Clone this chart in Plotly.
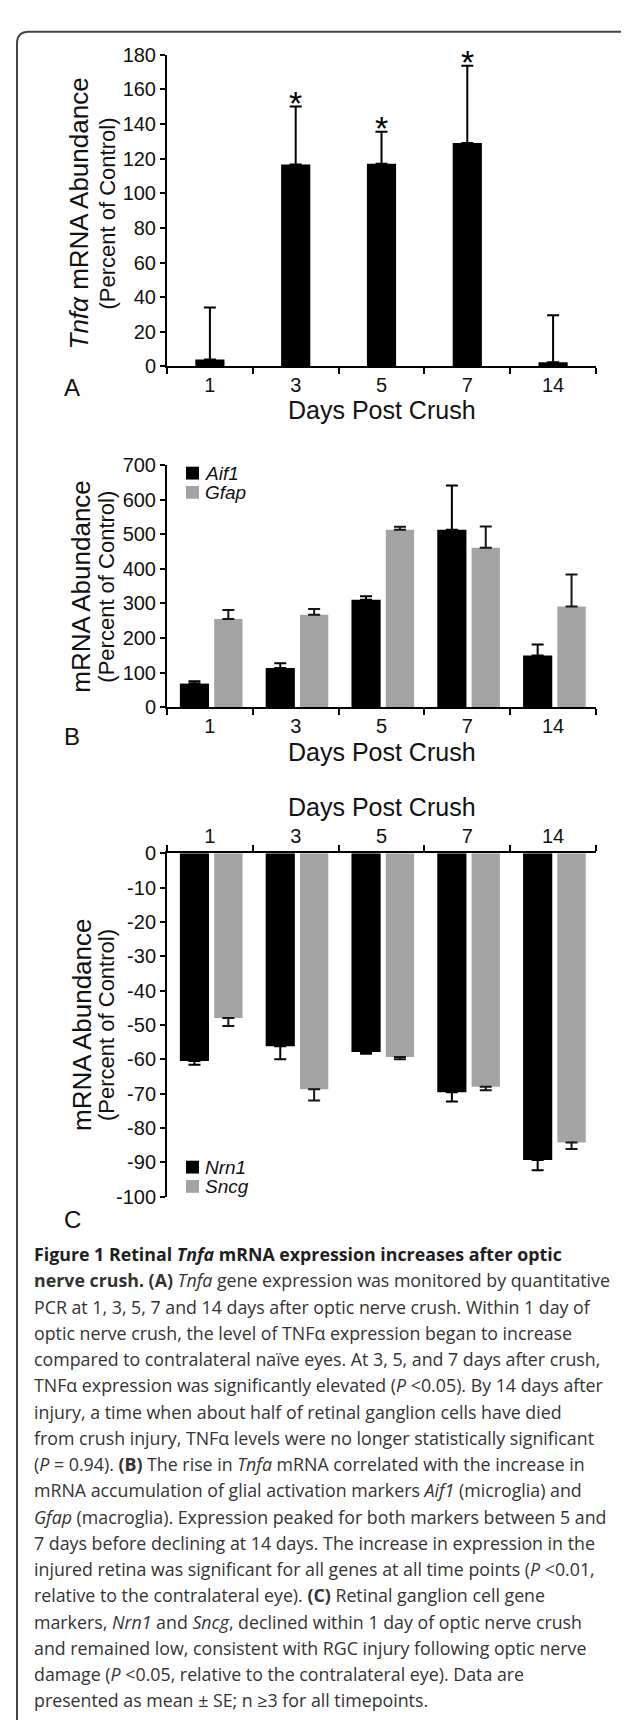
import plotly.graph_objects as go

W, H = 629, 1720

# ---------------- data ----------------
days = ["1", "3", "5", "7", "14"]

tnfa_mean = [4, 116.5, 117, 129, 2.5]
tnfa_se = [30, 33.5, 18.5, 44.5, 27]
tnfa_sig = [False, True, True, True, False]

aif1_mean = [68, 113, 311, 513, 149]
aif1_se = [7, 14, 10, 128, 32]
gfap_mean = [255, 267, 513, 461, 291]
gfap_se = [26, 17, 9, 62, 93]

nrn1_mean = [-60.5, -56.2, -57.9, -69.6, -89.3]
nrn1_se = [1.1, 3.8, 0.5, 2.7, 3]
sncg_mean = [-48, -68.7, -59.3, -68, -84.2]
sncg_se = [2.3, 3.3, 0.7, 1, 1.9]

yticks_a = list(range(0, 181, 20))
yticks_b = list(range(0, 701, 100))
yticks_c = list(range(-100, 1, 10))
yticklabels_c = [str(v) for v in yticks_c]  # plain hyphen minus, as in the figure

caption_lines = [
    "<b>Figure 1 Retinal <i>Tnfa</i> mRNA expression increases after optic</b>",
    "<b>nerve crush. (A)</b> <i>Tnfa</i> gene expression was monitored by quantitative",
    "PCR at 1, 3, 5, 7 and 14 days after optic nerve crush. Within 1 day of",
    "optic nerve crush, the level of TNF\u03b1 expression began to increase",
    "compared to contralateral na\u00efve eyes. At 3, 5, and 7 days after crush,",
    "TNF\u03b1 expression was significantly elevated (<i>P</i> &lt;0.05). By 14 days after",
    "injury, a time when about half of retinal ganglion cells have died",
    "from crush injury, TNF\u03b1 levels were no longer statistically significant",
    "(<i>P</i> = 0.94). <b>(B)</b> The rise in <i>Tnfa</i> mRNA correlated with the increase in",
    "mRNA accumulation of glial activation markers <i>Aif1</i> (microglia) and",
    "<i>Gfap</i> (macroglia). Expression peaked for both markers between 5 and",
    "7 days before declining at 14 days. The increase in expression in the",
    "injured retina was significant for all genes at all time points (<i>P</i> &lt;0.01,",
    "relative to the contralateral eye). <b>(C)</b> Retinal ganglion cell gene",
    "markers, <i>Nrn1</i> and <i>Sncg</i>, declined within 1 day of optic nerve crush",
    "and remained low, consistent with RGC injury following optic nerve",
    "damage (<i>P</i> &lt;0.05, relative to the contralateral eye). Data are",
    "presented as mean \u00b1 SE; n \u22653 for all timepoints.",
]

# ---------------- style ----------------
BLACK = "#000000"
GRAY = "#a3a3a3"
FONT = "Arial, Liberation Sans, sans-serif"
CAPFONT = "Open Sans, sans-serif"
TICK = 20


def px(x):
    return x / W


def py(y):
    return 1 - y / H


def err(plus, minus, color=BLACK):
    return dict(type="data", array=plus, arrayminus=minus, symmetric=False,
                color=color, thickness=2, width=6)


zeros = [0] * len(days)
fig = go.Figure()

# Panel A
fig.add_trace(go.Bar(x=days, y=tnfa_mean, width=0.34, marker=dict(color=BLACK, line=dict(width=0)),
                     error_y=err(tnfa_se, zeros), xaxis="x", yaxis="y", name="Tnfa"))
# Panel B
fig.add_trace(go.Bar(x=days, y=aif1_mean, width=0.34, offset=-0.35, marker=dict(color=BLACK, line=dict(width=0)),
                     error_y=err(aif1_se, zeros), xaxis="x2", yaxis="y2", name="Aif1"))
fig.add_trace(go.Bar(x=days, y=gfap_mean, width=0.33, offset=0.05, marker=dict(color=GRAY, line=dict(width=0)),
                     error_y=err(gfap_se, zeros, "#151515"), xaxis="x2", yaxis="y2", name="Gfap"))
# Panel C
fig.add_trace(go.Bar(x=days, y=nrn1_mean, width=0.34, offset=-0.35, marker=dict(color=BLACK, line=dict(width=0)),
                     error_y=err(zeros, nrn1_se), xaxis="x3", yaxis="y3", name="Nrn1"))
fig.add_trace(go.Bar(x=days, y=sncg_mean, width=0.33, offset=0.05, marker=dict(color=GRAY, line=dict(width=0)),
                     error_y=err(zeros, sncg_se, "#151515"), xaxis="x3", yaxis="y3", name="Sncg"))

XDOM = [px(159), px(588)]
common_x = dict(type="category", range=[-0.5, 4.5], tickson="boundaries", ticks="outside", ticklen=6,
                tickwidth=1.5, tickcolor=BLACK, showline=True, linewidth=2, linecolor=BLACK,
                showgrid=False, zeroline=False, tickfont=dict(family=FONT, size=TICK, color="#111"),
                fixedrange=True)
common_y = dict(ticks="outside", ticklen=5, tickwidth=1.5, tickcolor=BLACK, showline=True, linewidth=2,
                linecolor=BLACK, showgrid=False, zeroline=False,
                tickfont=dict(family=FONT, size=TICK, color="#111"), fixedrange=True)

fig.update_layout(
    width=W, height=H, margin=dict(l=0, r=0, t=0, b=0), paper_bgcolor="white", plot_bgcolor="rgba(0,0,0,0)",
    barmode="overlay", showlegend=False,
    xaxis=dict(common_x, domain=XDOM, anchor="y"),
    yaxis=dict(common_y, domain=[py(352), py(36)], range=[0, 180], tickvals=yticks_a, anchor="x"),
    xaxis2=dict(common_x, domain=XDOM, anchor="y2"),
    yaxis2=dict(common_y, domain=[py(697), py(452)], range=[0, 700], tickvals=yticks_b, anchor="x2"),
    xaxis3=dict(common_x, domain=XDOM, anchor="y3", side="top"),
    yaxis3=dict(common_y, domain=[py(1193), py(845)], range=[-100, 0], tickvals=yticks_c,
                ticktext=yticklabels_c, anchor="x3"),
)

ann = []
# significance stars (category index as x)
for i, (m, s, sig) in enumerate(zip(tnfa_mean, tnfa_se, tnfa_sig)):
    if sig:
        ann.append(dict(x=i, y=m + s, xref="x", yref="y", text="*", showarrow=False, yanchor="middle",
                        yshift=4, font=dict(family=FONT, size=34, color=BLACK)))


def txt(x, y, text, size, angle=0, xanchor="center", family=FONT, color="#111"):
    ann.append(dict(x=px(x), y=py(y), xref="paper", yref="paper", text=text, showarrow=False,
                    xanchor=xanchor, yanchor="middle", textangle=angle,
                    font=dict(family=family, size=size, color=color)))


# axis titles
txt(71, 197, "<i>Tnf\u03b1</i> mRNA Abundance", 26, -90)
txt(99, 197, "(Percent of Control)", 22, -90)
txt(73, 575, "mRNA Abundance", 26, -90)
txt(99, 575, "(Percent of Control)", 22, -90)
txt(74, 1019, "mRNA Abundance", 26, -90)
txt(99, 1019, "(Percent of Control)", 22, -90)
txt(374, 396, "Days Post Crush", 25)
txt(374, 742, "Days Post Crush", 25)
txt(374, 798, "Days Post Crush", 25)
# panel letters
txt(64, 373, "A", 24)
txt(64, 727, "B", 24)
txt(64, 1216, "C", 24)

# legends (swatches + labels)
shapes = []


def legend_item(yc, color, label):
    shapes.append(dict(type="rect", xref="paper", yref="paper", x0=px(178), x1=px(191), y0=py(yc + 6.5),
                       y1=py(yc - 6.5), fillcolor=color, line=dict(width=0)))
    txt(195, yc, "<i>%s</i>" % label, 19, xanchor="left")


legend_item(460, BLACK, "Aif1")
legend_item(479.5, GRAY, "Gfap")
legend_item(1163, BLACK, "Nrn1")
legend_item(1182.5, GRAY, "Sncg")

# caption
for i, line in enumerate(caption_lines):
    txt(24, 1251 + 26.6 * i, line, 17.8, xanchor="left", family=CAPFONT,
        color="#1e1e1e" if i == 0 else "#333333")

# frame
r = 12
L, R, T, B = 9, 627, 13, 1740
path = ("M %f,%f L %f,%f Q %f,%f %f,%f L %f,%f Q %f,%f %f,%f L %f,%f" % (
    px(L), py(B), px(L), py(T + r), px(L), py(T), px(L + r), py(T),
    px(R - r), py(T), px(R), py(T), px(R), py(T + r), px(R), py(B)))
shapes.append(dict(type="path", xref="paper", yref="paper", path=path, line=dict(color="#444", width=2)))

fig.update_layout(annotations=ann, shapes=shapes)
fig.write_html("out.html")
